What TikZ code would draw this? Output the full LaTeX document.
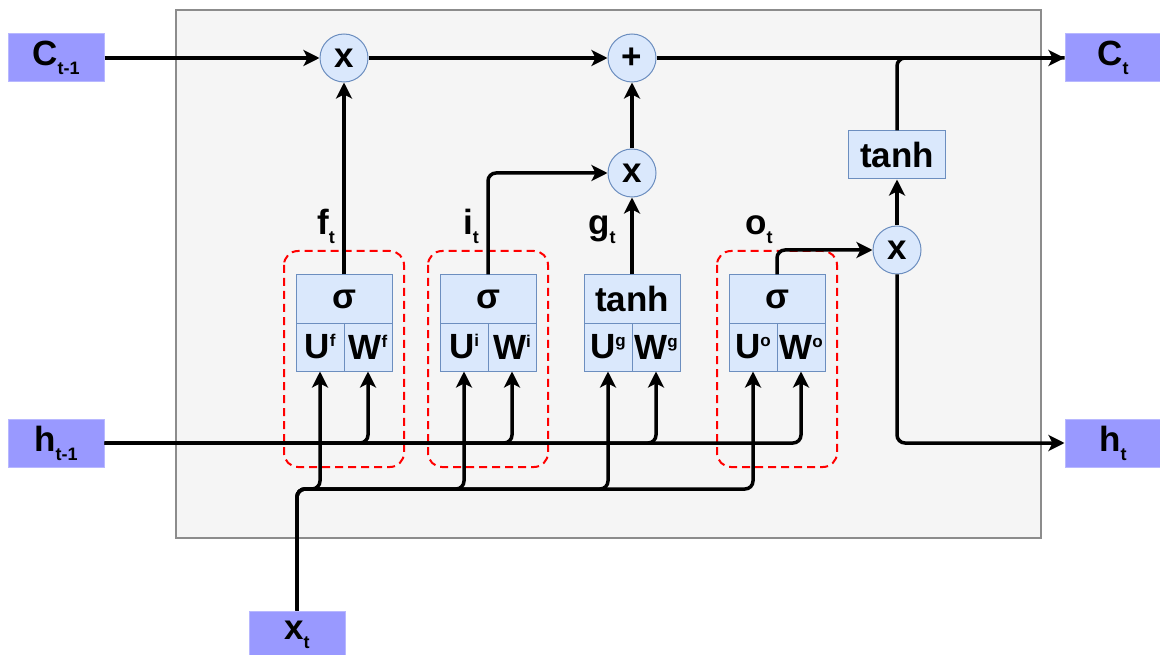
\documentclass[tikz,border=0pt]{standalone}
\usepackage{fontspec}
\setmainfont{Liberation Sans}
\usetikzlibrary{arrows.meta}
\definecolor{cellfill}{HTML}{DAE8FC}
\definecolor{cellline}{HTML}{6C8EBF}
\definecolor{iofill}{HTML}{9999FF}
\definecolor{ioline}{HTML}{B8B8FF}
\definecolor{framefill}{HTML}{F5F5F5}
\definecolor{frameline}{HTML}{8C8C8C}
\newcommand\bigtxt{\fontsize{35}{40}\selectfont\bfseries}
\newcommand\subtx[1]{\raisebox{-9pt}{\fontsize{18}{18}\selectfont #1}}
\newcommand\suptx[1]{\raisebox{12pt}{\fontsize{17}{17}\selectfont #1}}
\begin{document}
\begin{tikzpicture}[x=1pt,y=-1pt,>={Stealth[length=16pt,width=16pt,inset=4pt]},
 cell/.style={draw=cellline,fill=cellfill,line width=1pt,minimum width=48pt,
    minimum height=48pt,inner sep=0pt,font=\bigtxt},
 op/.style={circle,draw=cellline,fill=cellfill,line width=1pt,minimum size=48pt,
    inner sep=0pt,font=\bigtxt},
 io/.style={draw=ioline,fill=iofill,line width=1pt,minimum width=96pt,
    minimum height=48pt,inner sep=0pt,font=\bigtxt},
 wire/.style={->,line width=3.5pt,rounded corners=8pt},
 gatebox/.style={draw=red,line width=2pt,dash pattern=on 8pt off 5pt,rounded corners=14pt},
 lbl/.style={anchor=base west,inner sep=0pt,font=\bigtxt}]
 \useasboundingbox (0,0) rectangle (1160,655);
 \draw[frameline,fill=framefill,line width=1.5pt] (176,10) rectangle (1041,538);
 \foreach \x in {344,488,777}
    \draw[gatebox] (\x-60,251) rectangle (\x+60,467);
 \foreach \g/\x/\act in {f/344/σ,i/488/σ,g/632/tanh,o/777/σ} {
    \node[cell,minimum width=96pt] (\g act) at (\x,299) {\act};
    \node[cell] (\g U) at (\x-24,347) {U\suptx{\g}};
    \node[cell] (\g W) at (\x+24,347) {W\suptx{\g}};
 }
 \node[op] (cf) at (344,58) {x};
 \node[op] (cadd) at (632,58) {+};
 \node[op] (ci) at (632,173) {x};
 \node[op] (co) at (897,250) {x};
 \node[cell,minimum width=97pt] (ctanh) at (897,155) {tanh};
 \node[io] (cprev) at (56,58) {C\subtx{t-1}};
 \node[io] (cnext) at (1113,58) {C\subtx{t}};
 \node[io] (hprev) at (56,443) {h\subtx{t-1}};
 \node[io] (hnext) at (1113,443) {h\subtx{t}};
 \node[io] (xt) at (297,635) {x\subtx{t}};
 \coordinate (bus) at (297,489);
 \node[lbl] (ft) at (317,235) {f\subtx{t}};
 \node[lbl] (it) at (463,235) {i\subtx{t}};
 \node[lbl] (gt) at (588,235) {g\subtx{t}};
 \node[lbl] (ot) at (745,235) {o\subtx{t}};
 \draw[wire] (cprev) -- (cf);
 \draw[wire] (cf) -- (cadd);
 \draw[wire] (cadd) -- (cnext);
 \draw[line width=3.5pt,rounded corners=8pt] (ctanh) |- (cnext);
 \draw[wire] (fact) -- (cf);
 \draw[wire] (iact) |- (ci);
 \draw[wire] (gact) -- (ci);
 \draw[wire] (ci) -- (cadd);
 \draw[wire] (oact) |- (co);
 \draw[wire] (co) -- (ctanh);
 \draw[wire] (co) |- (hnext);
 \foreach \g in {f,i,g,o}
    \draw[wire] (hprev) -| (\g W);
 \foreach \g in {f,i,g,o}
    \draw[wire] (xt) -- (bus) -| (\g U);
\end{tikzpicture}
\end{document}
